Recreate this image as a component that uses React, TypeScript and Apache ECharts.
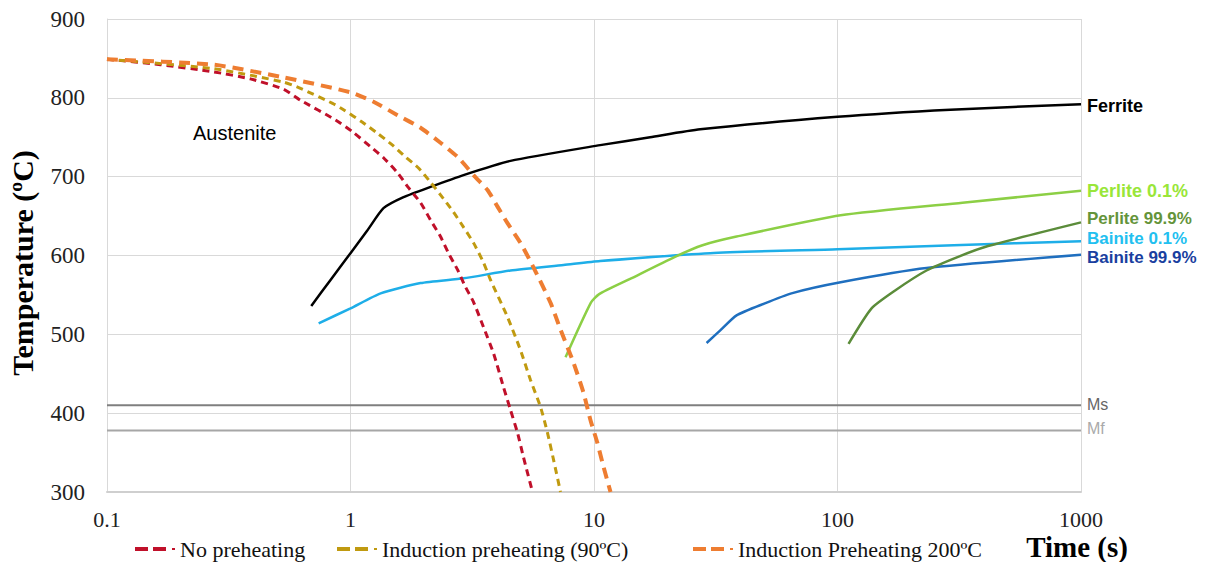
import React, { useEffect, useRef } from "react";
import * as echarts from "echarts";

// Time (s) vs Temperature (ºC) data
const noPreheating: [number, number][] = [
  [0.1, 849], [0.166, 842], [0.274, 833], [0.388, 824], [0.531, 811], [0.623, 797],
  [0.868, 772], [1.019, 757], [1.208, 738], [1.366, 724], [1.56, 705], [1.73, 686],
  [1.939, 667], [2.131, 645], [2.342, 624], [2.526, 603], [2.751, 582], [2.967, 560],
  [3.201, 541], [3.518, 509], [3.867, 476], [4.25, 433], [4.541, 404], [4.852, 375],
  [5.134, 344], [5.59, 300],
];
const induction90: [number, number][] = [
  [0.1, 849], [0.274, 837], [0.531, 820], [0.623, 812], [0.844, 793], [0.936, 785],
  [1.12, 769], [1.291, 755], [1.488, 740], [1.682, 725], [1.902, 711], [2.131, 693],
  [2.342, 677], [2.648, 655], [2.911, 636], [3.201, 616], [3.518, 591], [3.758, 569],
  [4.413, 522], [4.99, 480], [5.486, 442], [6.03, 408], [6.442, 375], [6.819, 341],
  [7.285, 300],
];
const induction200: [number, number][] = [
  [0.1, 849], [0.274, 842], [0.531, 826], [1, 807], [1.243, 795], [1.56, 778],
  [1.939, 762], [2.342, 743], [2.777, 724], [3.201, 702], [3.652, 683], [4.016, 662],
  [4.413, 641], [4.99, 616], [5.642, 585], [6.628, 540], [7.285, 506], [8.239, 464],
  [9.055, 426], [9.674, 391], [10.33, 362], [10.94, 332], [11.69, 300],
];
const ferrite: [number, number][] = [
  [0.69, 536], [0.828, 569], [1, 603], [1.174, 632], [1.366, 660], [1.651, 674],
  [2.131, 687], [2.911, 702], [4.541, 720], [10.6, 740], [17, 750], [27.3, 760],
  [100, 776], [291, 785], [1000, 792],
];
const bainite01: [number, number][] = [
  [0.74, 514], [1, 533], [1.33, 552], [1.94, 565], [2.91, 571], [4.54, 581],
  [7.5, 588], [10.6, 593], [30, 603], [100, 608], [300, 613], [1000, 618],
];
const perlite01: [number, number][] = [
  [7.64, 471], [9.7, 540], [10.5, 551], [14, 570], [21.4, 598], [27.9, 613],
  [38.5, 624], [103, 651], [326, 667], [1000, 682],
];
const bainite999: [number, number][] = [
  [29, 489], [33, 505], [38.5, 524], [50, 539], [64.7, 552], [103, 566],
  [232, 584], [1000, 601],
];
const perlite999: [number, number][] = [
  [111, 488], [138, 533], [173, 556], [232, 581], [311, 598], [415, 612], [1000, 642],
];
const msLine: [number, number][] = [[0.1, 410], [1000, 410]];
const mfLine: [number, number][] = [[0.1, 378], [1000, 378]];

const xTickLabels = ["0.1", "1", "10", "100", "1000"];
const legendNames = ["No preheating", "Induction preheating (90ºC)", "Induction Preheating 200ºC"];

const SERIF = "'Liberation Serif', 'Times New Roman', serif";
const SANS = "'Liberation Sans', Arial, sans-serif";

function endLabel(text: string, color: string, bold: boolean, size: number, offset: number[] = [0, 0]) {
  return {
    show: true,
    formatter: text,
    color,
    fontFamily: SANS,
    fontWeight: bold ? "bold" : "normal",
    fontSize: size,
    lineHeight: size,
    distance: 6,
    offset,
  };
}

export default function App() {
  const ref = useRef<HTMLDivElement>(null);
  useEffect(() => {
    if (!ref.current) return;
    const chart = echarts.init(ref.current, undefined, { renderer: "svg" });
    const solid = (name: string, data: [number, number][], color: string, label: any) => ({
      name,
      type: "line",
      data,
      symbol: "none",
      smooth: 0.2,
      lineStyle: { color, width: 2.5 },
      itemStyle: { color },
      endLabel: label,
      z: 3,
    });
    const dashed = (name: string, data: [number, number][], color: string, width: number, dash: number[]) => ({
      name,
      type: "line",
      data,
      symbol: "none",
      smooth: 0.2,
      lineStyle: { color, width, type: dash },
      itemStyle: { color },
      z: 4,
    });
    const legendCommon = {
      top: 538,
      padding: 0,
      itemWidth: 40,
      itemHeight: 4,
      itemGap: 6,
      icon: "path://M0,0h13v4h-13z M18,0h13v4h-13z M37,1h3v2h-3z",
      textStyle: { fontFamily: SERIF, fontSize: 22, lineHeight: 22, color: "#111" },
    };
    chart.setOption({
      animation: false,
      backgroundColor: "#fff",
      grid: { left: 107, right: 133, top: 19, bottom: 70, containLabel: false },
      legend: [
        { ...legendCommon, left: 135, data: [legendNames[0]] },
        { ...legendCommon, left: 337, data: [legendNames[1]] },
        { ...legendCommon, left: 693, data: [legendNames[2]] },
      ],
      xAxis: {
        type: "log",
        logBase: 10,
        min: 0.1,
        max: 1000,
        axisLine: { show: true, lineStyle: { color: "#cfcfcf", width: 2 } },
        axisTick: { show: false },
        minorTick: { show: false },
        splitLine: { show: true, lineStyle: { color: "#d9d9d9", width: 1 } },
        axisLabel: {
          margin: 16,
          fontFamily: SERIF,
          fontSize: 22,
          lineHeight: 22,
          color: "#222",
          formatter: (v: number) => {
            const l = xTickLabels.find((s) => Math.abs(Math.log10(v) - Math.log10(parseFloat(s))) < 0.01);
            return l ?? "";
          },
        },
      },
      yAxis: {
        type: "value",
        min: 300,
        max: 900,
        interval: 100,
        axisLine: { show: true, lineStyle: { color: "#d9d9d9", width: 1 } },
        axisTick: { show: false },
        splitLine: { show: true, lineStyle: { color: "#d9d9d9", width: 1 } },
        axisLabel: { margin: 22, fontFamily: SERIF, fontSize: 23, color: "#222" },
      },
      graphic: [
        {
          type: "text",
          x: 22,
          y: 263,
          rotation: Math.PI / 2,
          style: {
            text: "Temperature (ºC)",
            fontFamily: SERIF,
            fontWeight: "bold",
            fontSize: 30,
            fill: "#000",
            align: "center",
            verticalAlign: "middle",
          },
        },
        {
          type: "text",
          x: 1077,
          y: 547,
          style: {
            text: "Time (s)",
            fontFamily: SERIF,
            fontWeight: "bold",
            fontSize: 29,
            lineHeight: 26,
            fill: "#000",
            align: "center",
            verticalAlign: "middle",
          },
        },
        {
          type: "text",
          x: 193,
          y: 133,
          style: {
            text: "Austenite",
            fontFamily: SANS,
            fontSize: 20,
            fill: "#000",
            align: "left",
            verticalAlign: "middle",
          },
        },
      ],
      series: [
        {
          name: "Ms",
          type: "line",
          data: msLine,
          symbol: "none",
          lineStyle: { color: "#7f7f7f", width: 2 },
          endLabel: endLabel("Ms", "#666", false, 16, [0, -1]),
          z: 2,
        },
        {
          name: "Mf",
          type: "line",
          data: mfLine,
          symbol: "none",
          lineStyle: { color: "#a6a6a6", width: 2 },
          endLabel: endLabel("Mf", "#aaa", false, 16, [0, -2]),
          z: 2,
        },
        solid("Ferrite", ferrite, "#000000", endLabel("Ferrite", "#000", true, 18, [0, 2])),
        solid("Bainite 0.1%", bainite01, "#1eaee8", endLabel("Bainite 0.1%", "#22c0f0", true, 17, [0, -3])),
        solid("Perlite 0.1%", perlite01, "#8ccf45", endLabel("Perlite 0.1%", "#99e639", true, 18, [0, 0])),
        solid("Bainite 99.9%", bainite999, "#1f6fbf", endLabel("Bainite 99.9%", "#1a3f9f", true, 17, [0, 3])),
        solid("Perlite 99.9%", perlite999, "#5b8c3a", endLabel("Perlite 99.9%", "#64943a", true, 17, [0, -4])),
        dashed(legendNames[0], noPreheating, "#c0102a", 3, [7, 5]),
        dashed(legendNames[1], induction90, "#c09a10", 3, [7, 5]),
        dashed(legendNames[2], induction200, "#ee7d31", 4, [11, 7]),
      ],
    });
    return () => chart.dispose();
  }, []);
  return (
    <div
      ref={ref}
      style={{ position: "absolute", left: 0, top: 0, width: 1214, height: 562 }}
    />
  );
}
